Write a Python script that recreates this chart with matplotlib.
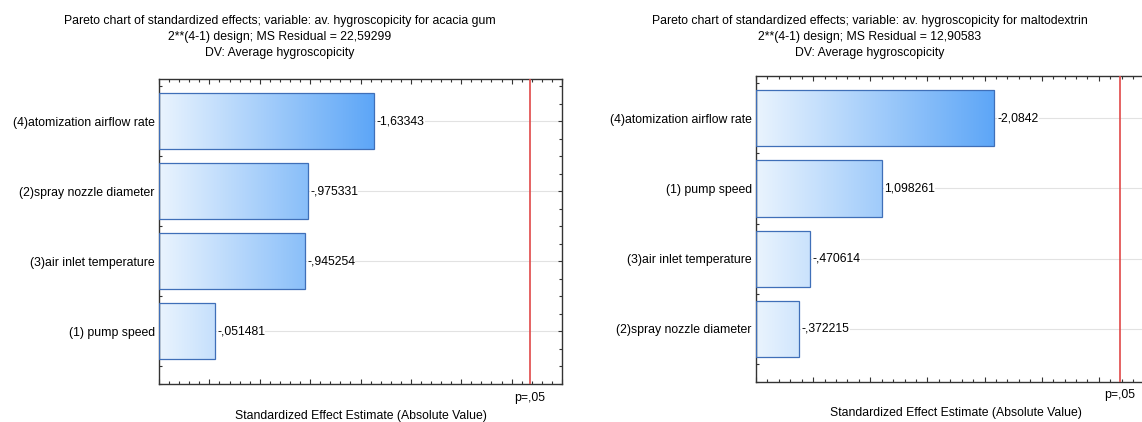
import numpy as np
import matplotlib
matplotlib.use('Agg')
from matplotlib import pyplot as plt
from matplotlib.colors import LinearSegmentedColormap
from matplotlib.patches import Rectangle
from matplotlib.ticker import MultipleLocator, FixedLocator

plt.rcParams['font.family'] = ['Liberation Sans', 'DejaVu Sans']
plt.rcParams['font.size'] = 8.8

# acacia gum
gum_factors = ['(4)atomization airflow rate', '(2)spray nozzle diameter',
               '(3)air inlet temperature', '(1) pump speed']
gum_effects = [-1.63343, -0.975331, -0.945254, -0.051481]
gum_labels = ['-1,63343', '-,975331', '-,945254', '-,051481']
gum_title = ['Pareto chart of standardized effects; variable: av. hygroscopicity for acacia gum',
             '2**(4-1) design; MS Residual = 22,59299',
             'DV: Average hygroscopicity']

# maltodextrin
malto_factors = ['(4)atomization airflow rate', '(1) pump speed',
                 '(3)air inlet temperature', '(2)spray nozzle diameter']
malto_effects = [-2.0842, 1.098261, -0.470614, -0.372215]
malto_labels = ['-2,0842', '1,098261', '-,470614', '-,372215']
malto_title = ['Pareto chart of standardized effects; variable: av. hygroscopicity for maltodextrin',
               '2**(4-1) design; MS Residual = 12,90583',
               'DV: Average hygroscopicity']

t_crit = 3.182446  # p=.05, df=3

cmap = LinearSegmentedColormap.from_list('bl', ['#eaf4fe', '#5da6f7'])
W, H = 1142, 422
fig = plt.figure(figsize=(W / 100, H / 100), dpi=100)


def pareto(rect, factors, effects, labels, xlim):
    ax = fig.add_axes(rect)
    vals = np.abs(effects)
    y = np.arange(len(vals))
    x0 = xlim[0]
    hi = vals.max()
    grad = np.linspace(0, 1, 256).reshape(1, -1)
    for yi, v, lab in zip(y, vals, labels):
        r = Rectangle((x0, yi - 0.4), v - x0, 0.8, facecolor='none',
                      edgecolor='#3f6fb8', lw=0.9, zorder=3)
        ax.add_patch(r)
        im = ax.imshow(grad, cmap=cmap, aspect='auto', zorder=2,
                       extent=[x0, hi, yi + 0.4, yi - 0.4])
        im.set_clip_path(r)
        ax.text(v + 0.025, yi, lab, va='center', ha='left', zorder=4,
                bbox=dict(facecolor='white', edgecolor='none', pad=0.2))
    for yi in y:
        ax.axhline(yi, color='#e2e2e2', lw=0.8, zorder=1)
    ax.axvline(t_crit, color='#e04848', lw=1.2, zorder=5)
    ax.set_xlim(*xlim)
    ax.set_ylim(len(vals) - 0.25, -0.6)
    ax.set_yticks(y)
    ax.set_yticklabels(factors)
    ax.yaxis.set_minor_locator(FixedLocator(np.arange(-0.5, len(vals), 0.25)))
    ax.xaxis.set_major_locator(MultipleLocator(0.5))
    ax.xaxis.set_minor_locator(MultipleLocator(0.1))
    ax.set_xticklabels([])
    ax.tick_params(which='both', direction='in', top=True, right=True,
                   color='#333333', width=0.8)
    ax.tick_params(which='major', length=3.5, pad=3)
    ax.tick_params(which='minor', length=2)
    ax.tick_params(axis='y', which='major', length=3)
    for s in ax.spines.values():
        s.set_linewidth(1.0)
        s.set_color('#333333')
    ax.text(t_crit, -0.025, 'p=,05', transform=ax.get_xaxis_transform(),
            ha='center', va='top')
    ax.set_xlabel('Standardized Effect Estimate (Absolute Value)', labelpad=15)
    return ax


pareto([159 / W, 38 / H, 403 / W, 305 / H], gum_factors, gum_effects, gum_labels, (-0.5, 3.5))
pareto([756 / W, 40.3 / H, 400 / W, 305.7 / H], malto_factors, malto_effects, malto_labels, (0, 3.5))

for cx, lines in [(280, gum_title), (870, malto_title)]:
    for i, line in enumerate(lines):
        fig.text(cx / W, 1 - (21 + 16 * i) / H, line, ha='center', va='center')

fig.savefig('out.png', dpi=100)
